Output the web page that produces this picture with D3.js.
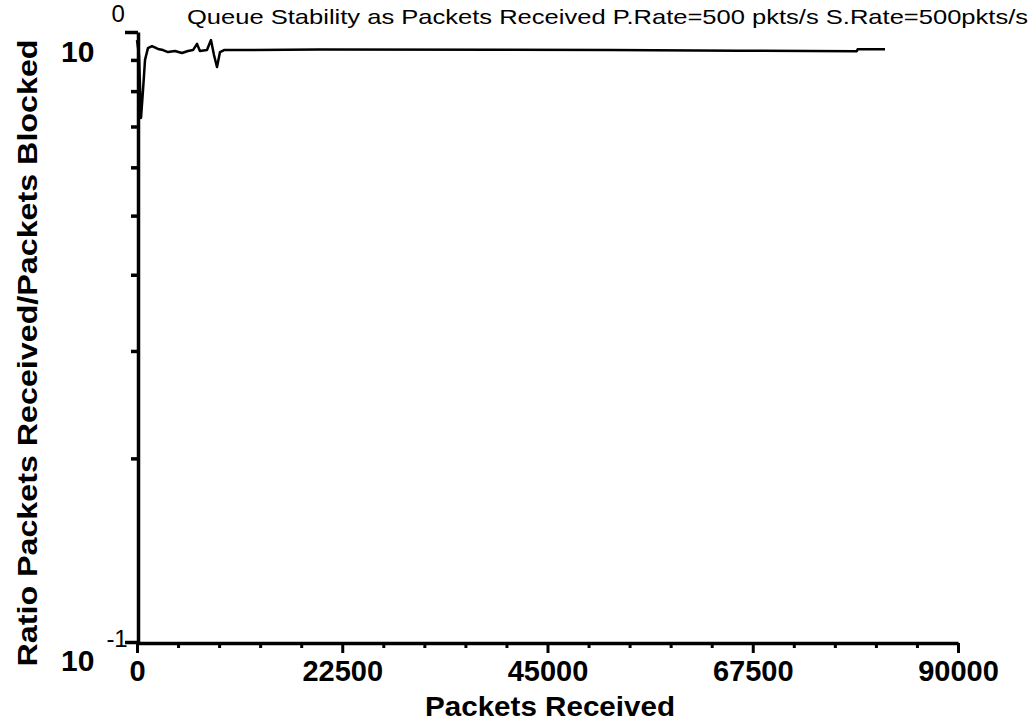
<!DOCTYPE html>
<html><head><meta charset="utf-8">
<script src="https://cdn.jsdelivr.net/npm/d3@7"></script>
<style>body{margin:0;background:#fff}svg{display:block}</style>
</head><body>
<svg id="c" width="1031" height="725"></svg>
<script>
// Data
const packets = [0, 220, 440, 660, 880, 1200, 1640, 2300, 2850, 3400, 4160, 4930, 5590, 6140, 6580, 6900, 7670, 8110, 8440, 8770, 9100, 9540, 20000, 40000, 52000, 66000, 78900, 79000, 82000];
const ratio   = [0.97, 0.917, 0.723, 0.803, 0.90, 0.941, 0.948, 0.938, 0.934, 0.927, 0.931, 0.924, 0.931, 0.934, 0.956, 0.931, 0.934, 0.970, 0.917, 0.876, 0.927, 0.934, 0.936, 0.935, 0.934, 0.932, 0.930, 0.937, 0.937];
const xMajor = [0, 22500, 45000, 67500, 90000];
const xMinor = d3.range(0, 90001, 4500).filter(v => v % 22500 !== 0);
const yMajor = [0.1, 1];
const yMinor = [0.2, 0.3, 0.4, 0.5, 0.6, 0.7, 0.8, 0.9];
const yMajorLabels = [["10", "-1"], ["10", "0"]];
const title = "Queue Stability as Packets Received P.Rate=500 pkts/s S.Rate=500pkts/s";
const xTitle = "Packets Received";
const yTitle = "Ratio Packets Received/Packets Blocked";

const svg = d3.select("#c");
const x = d3.scaleLinear().domain([0, 90000]).range([137, 958]);
const y = d3.scaleLog().domain([0.1, 1]).range([642, 32]);
const font = "Liberation Sans, Arial, sans-serif";

// X axis
const gx = svg.append("g").attr("transform", "translate(0,643)");
gx.call(d3.axisBottom(x).tickValues(xMajor).tickSize(10).tickSizeOuter(0).tickFormat(d3.format("d")).tickPadding(6));
gx.select(".domain").attr("stroke-width", 3.5);
gx.selectAll(".tick line").attr("stroke-width", 3);
gx.selectAll(".tick text").attr("font-family", font).attr("font-weight", "bold").attr("font-size", 29).attr("fill", "#000").attr("dy", "0.75em");
const gxm = svg.append("g").attr("transform", "translate(0,643)");
gxm.call(d3.axisBottom(x).tickValues(xMinor).tickSize(5).tickFormat(""));
gxm.select(".domain").remove();
gxm.selectAll(".tick line").attr("stroke-width", 3);

// Y axis
const gy = svg.append("g").attr("transform", "translate(138,0)");
gy.call(d3.axisLeft(y).tickValues(yMajor).tickSize(13).tickSizeOuter(0).tickFormat(""));
gy.select(".domain").attr("stroke-width", 3.5);
gy.selectAll(".tick line").attr("stroke-width", 3.5);
const gym = svg.append("g").attr("transform", "translate(138,0)");
gym.call(d3.axisLeft(y).tickValues(yMinor).tickSize(7).tickFormat(""));
gym.select(".domain").remove();
gym.selectAll(".tick line").attr("stroke-width", 3.5);

// Y major labels 10^e
yMajor.forEach((v, i) => {
  const t = svg.append("text").attr("font-family", font).attr("fill", "#000")
    .attr("x", 61).attr("y", y(v) + (i === 1 ? 30 : 29));
  t.append("tspan").attr("font-weight", "bold").attr("font-size", 30).text(yMajorLabels[i][0]);
  t.append("tspan").attr("font-size", 24).attr("dx", i === 1 ? 17 : 12).attr("dy", i === 1 ? -40 : -24).text(yMajorLabels[i][1]);
});

// Line
svg.append("path")
  .datum(packets.map((p, i) => [p, ratio[i]]))
  .attr("fill", "none").attr("stroke", "#000").attr("stroke-width", 2.5)
  .attr("stroke-linejoin", "round")
  .attr("d", d3.line().x(d => x(d[0])).y(d => y(d[1])));

// Titles
svg.append("text").attr("x", 187).attr("y", 24).attr("font-family", font).attr("font-size", 21)
  .attr("textLength", 841).attr("lengthAdjust", "spacingAndGlyphs").attr("fill", "#000").text(title);
svg.append("text").attr("x", 550).attr("y", 716).attr("text-anchor", "middle").attr("font-family", font).attr("font-weight", "bold").attr("font-size", 28)
  .attr("textLength", 250).attr("lengthAdjust", "spacingAndGlyphs").attr("fill", "#000").text(xTitle);
svg.append("text").attr("transform", "translate(37,353) rotate(-90)").attr("text-anchor", "middle").attr("font-family", font).attr("font-weight", "bold").attr("font-size", 28)
  .attr("textLength", 627).attr("lengthAdjust", "spacingAndGlyphs").attr("fill", "#000").text(yTitle);
</script>
</body></html>
